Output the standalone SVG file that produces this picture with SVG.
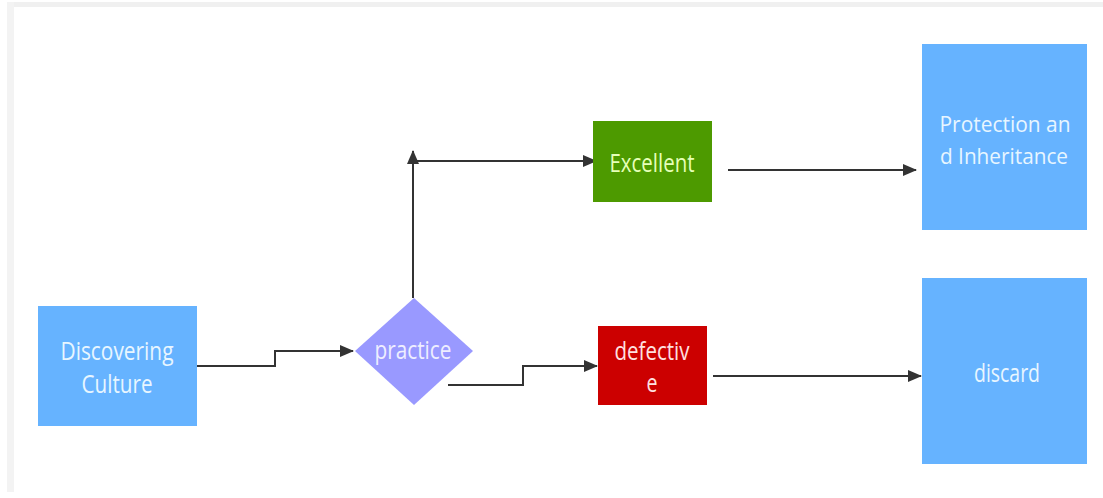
<svg xmlns="http://www.w3.org/2000/svg" width="1103" height="498" viewBox="0 0 1103 498">
<defs>
<style>
.lbl{font-family:"Open Sans","Liberation Sans",sans-serif;font-size:25px;text-anchor:middle;}
.sm{font-size:22px;}
.edge{fill:none;stroke:#333333;stroke-width:2;}
</style>
<marker id="arrL" markerWidth="14" markerHeight="12" refX="13" refY="6" orient="auto" markerUnits="userSpaceOnUse">
<path d="M0,0 L14,6 L0,12 Z" fill="#333333"/>
</marker>
</defs>
<rect x="0" y="0" width="1103" height="498" fill="#ffffff"/>
<rect x="7" y="2" width="1096" height="5" fill="#f0f0f0"/>
<rect x="7" y="2" width="7" height="490" fill="#f3f3f3"/>

<g id="connectors">
<path class="edge" d="M197,366 H275 V351 H353" marker-end="url(#arrL)"/>
<path class="edge" d="M413,298 V151" marker-end="url(#arrL)"/>
<path class="edge" d="M413,161 H596" marker-end="url(#arrL)"/>
<path class="edge" d="M448,385 H523 V366 H597" marker-end="url(#arrL)"/>
<path class="edge" d="M728,170 H916" marker-end="url(#arrL)"/>
<path class="edge" d="M713,376 H921" marker-end="url(#arrL)"/>
</g>

<g id="node-discovering">
<rect x="38" y="306" width="159" height="120" fill="#66b3ff"/>
<text class="lbl" x="117" y="360" fill="#e8f6ff" textLength="113" lengthAdjust="spacingAndGlyphs">Discovering</text>
<text class="lbl" x="117" y="393" fill="#e8f6ff" textLength="71" lengthAdjust="spacingAndGlyphs">Culture</text>
</g>

<g id="node-practice">
<path d="M414,298 L473,351 L414,405 L355,351 Z" fill="#9999ff"/>
<text class="lbl" x="413" y="359" fill="#eeeeff" textLength="77" lengthAdjust="spacingAndGlyphs">practice</text>
</g>

<g id="node-excellent">
<rect x="593" y="121" width="119" height="81" fill="#4d9a00"/>
<text class="lbl" x="652" y="172" fill="#e6ffb8" textLength="85" lengthAdjust="spacingAndGlyphs">Excellent</text>
</g>

<g id="node-defective">
<rect x="598" y="326" width="109" height="79" fill="#cc0000"/>
<text class="lbl" x="652" y="360" fill="#ffe0e0" textLength="75" lengthAdjust="spacingAndGlyphs">defectiv</text>
<text class="lbl" x="652" y="392" fill="#ffe0e0" textLength="11" lengthAdjust="spacingAndGlyphs">e</text>
</g>

<g id="node-protection">
<rect x="922" y="44" width="165" height="186" fill="#66b3ff"/>
<text class="lbl sm" x="1005" y="132" fill="#e8f6ff" textLength="131" lengthAdjust="spacingAndGlyphs">Protection an</text>
<text class="lbl sm" x="1004" y="164" fill="#e8f6ff" textLength="128" lengthAdjust="spacingAndGlyphs">d Inheritance</text>
</g>

<g id="node-discard">
<rect x="922" y="278" width="165" height="186" fill="#66b3ff"/>
<text class="lbl" x="1007" y="382" fill="#e8f6ff" textLength="66" lengthAdjust="spacingAndGlyphs">discard</text>
</g>
</svg>
